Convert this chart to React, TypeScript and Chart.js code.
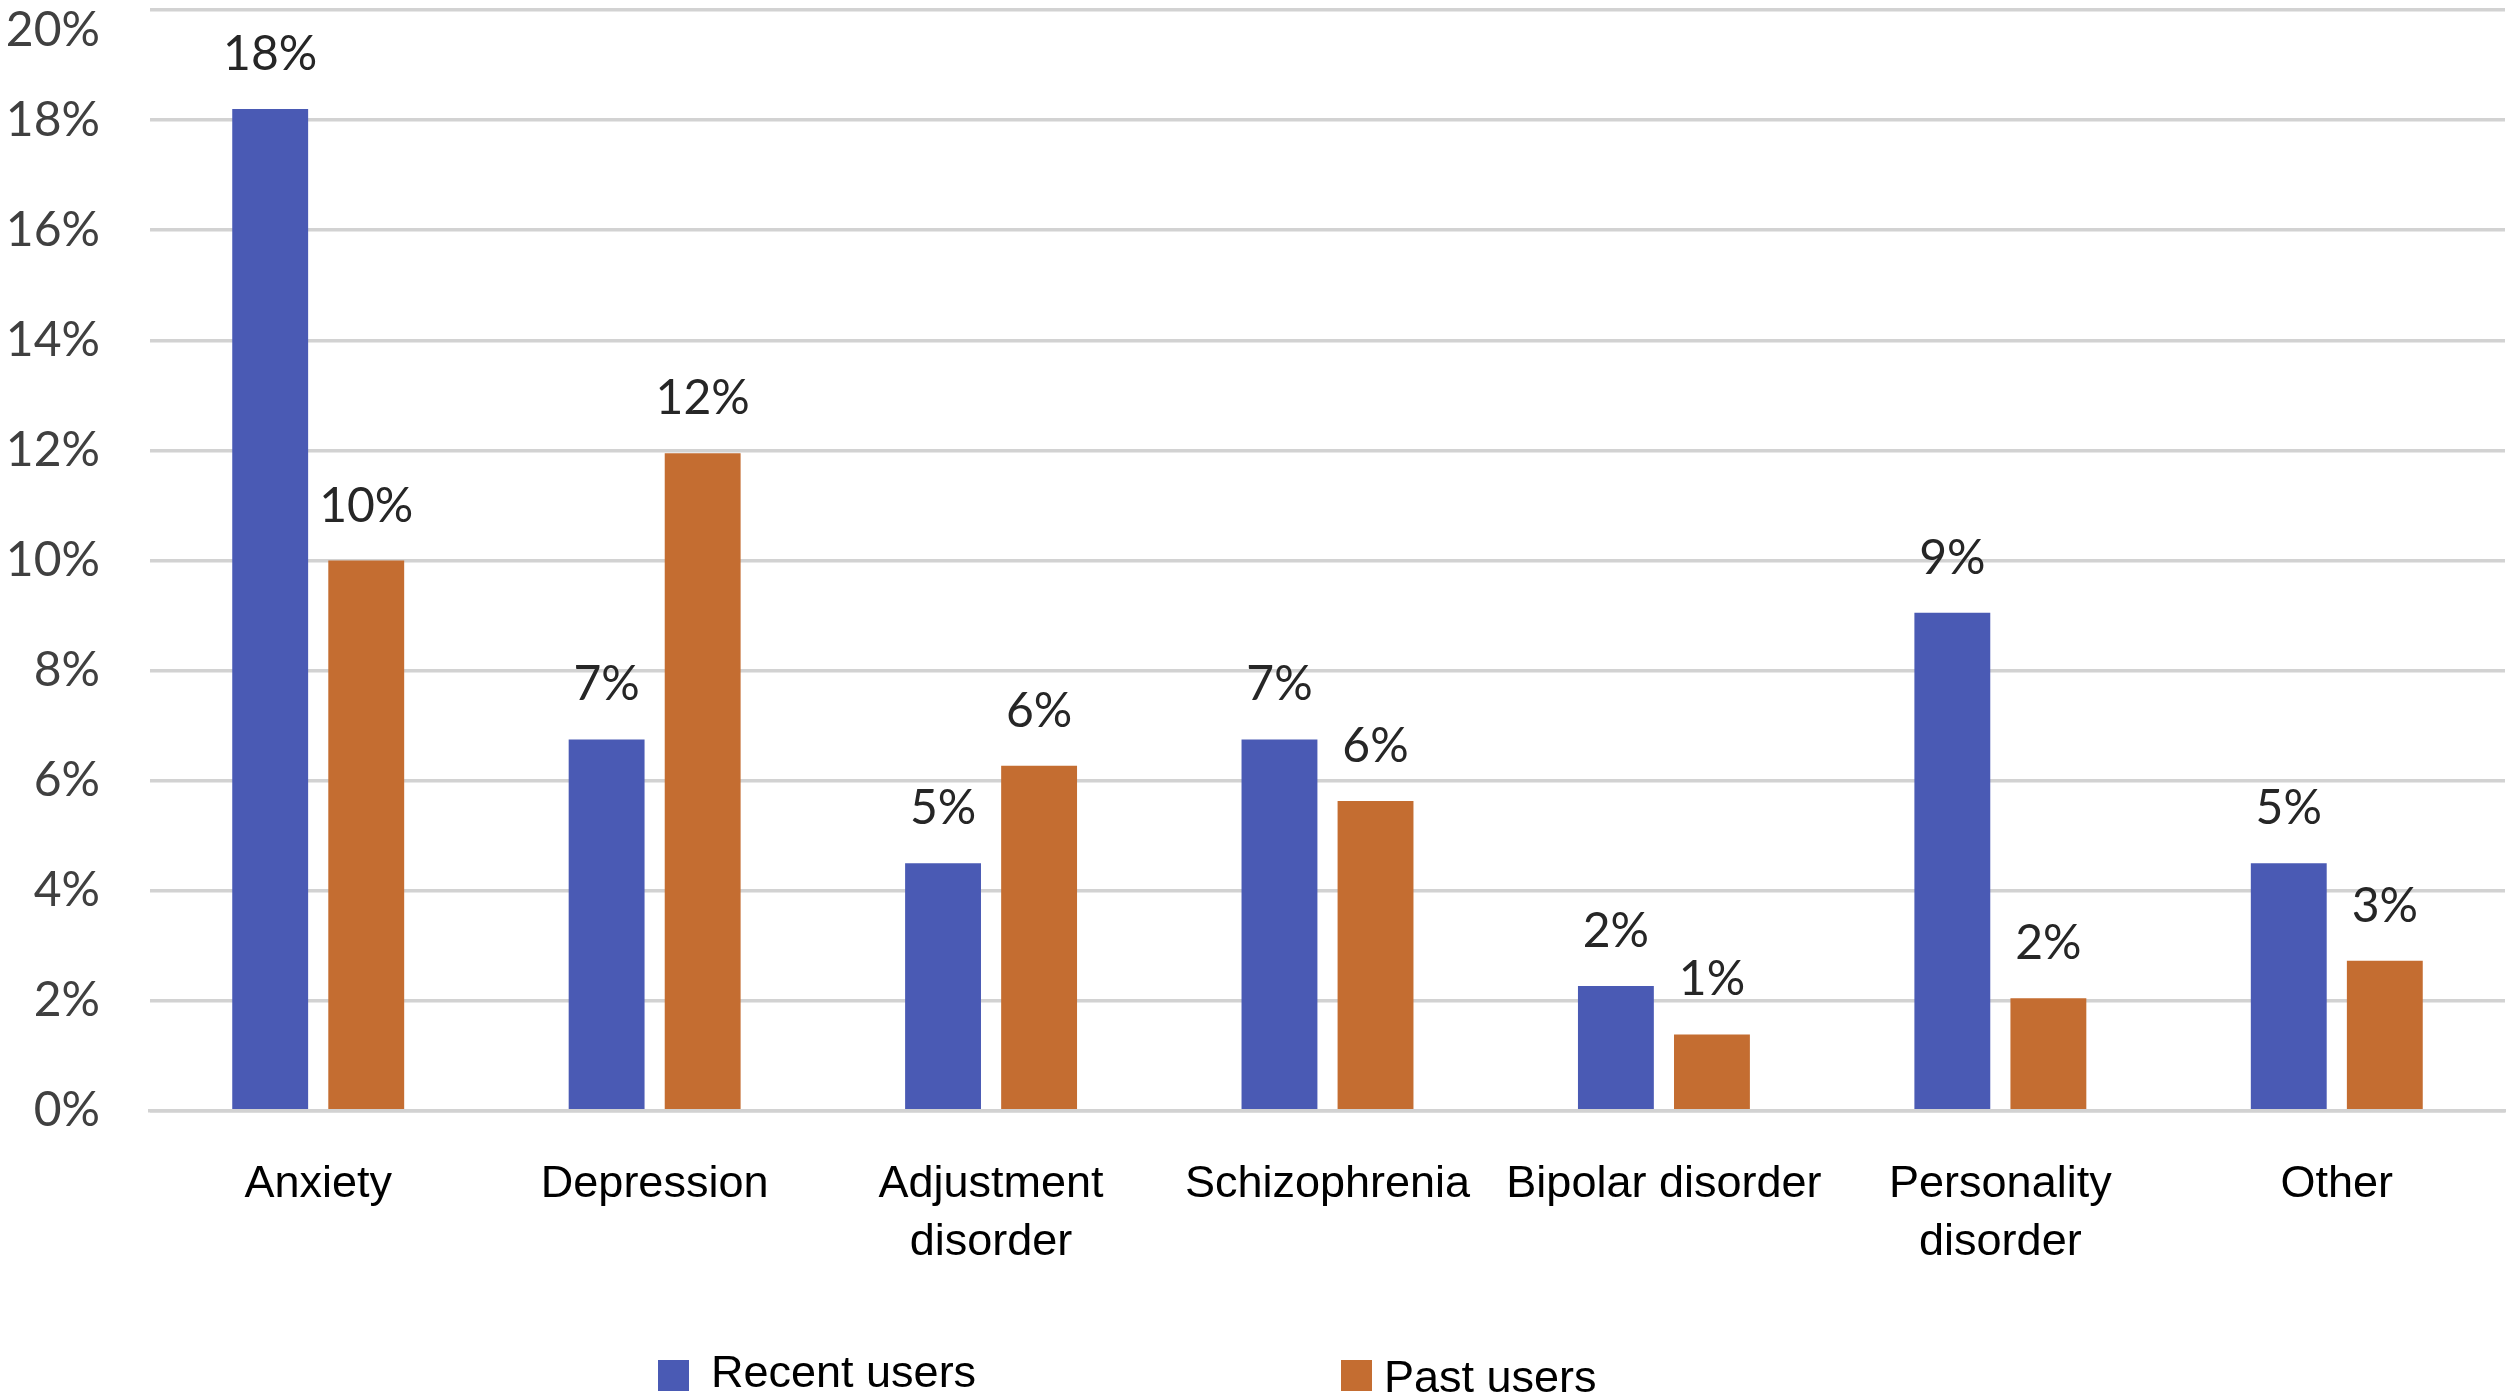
import { useEffect, useRef } from 'react';
import { Chart, registerables } from 'chart.js';

Chart.register(...registerables);

// ---- data ----
const categories: (string | string[])[] = [
  'Anxiety',
  'Depression',
  ['Adjustment', 'disorder'],
  'Schizophrenia',
  'Bipolar disorder',
  ['Personality', 'disorder'],
  'Other',
];
const seriesNames = ['Recent users', 'Past users'];
const recentUsers = [18.2, 6.75, 4.5, 6.75, 2.27, 9.05, 4.5];
const pastUsers = [10.0, 11.95, 6.27, 5.63, 1.39, 2.05, 2.73];
const yMin = 0;
const yMax = 20;
const yStep = 2;

const BLUE = '#4A5AB4';
const ORANGE = '#C46D31';
const GRID = '#d2d2d2';

const dataLabelPlugin = {
  id: 'dataLabelPlugin',
  afterDatasetsDraw(chart: any) {
    const ctx = chart.ctx;
    ctx.save();
    ctx.font = '48px Lato';
    ctx.fillStyle = '#262626';
    ctx.textAlign = 'center';
    ctx.textBaseline = 'alphabetic';
    chart.data.datasets.forEach((ds: any, i: number) => {
      const meta = chart.getDatasetMeta(i);
      meta.data.forEach((bar: any, j: number) => {
        const v = ds.data[j] as number;
        ctx.fillText(Math.round(v) + '%', bar.x, bar.y - 39);
      });
    });
    ctx.restore();
  },
};

// custom legend (items are spread far apart in the reference)
const legendPlugin = {
  id: 'spreadLegend',
  afterDraw(chart: any) {
    const ctx = chart.ctx;
    const boxX = [658, 1341];
    const textX = [711, 1384];
    const baseY = [1387, 1392];
    ctx.save();
    ctx.font = '45px "Liberation Sans", Arial, sans-serif';
    ctx.textAlign = 'left';
    ctx.textBaseline = 'alphabetic';
    chart.data.datasets.forEach((ds: any, i: number) => {
      ctx.fillStyle = ds.backgroundColor;
      ctx.fillRect(boxX[i], 1360, 31, 31);
      ctx.fillStyle = '#000000';
      ctx.fillText(ds.label, textX[i], baseY[i]);
    });
    ctx.restore();
  },
};

export default function App() {
  const canvasRef = useRef<HTMLCanvasElement | null>(null);

  useEffect(() => {
    document.body.style.margin = '0';
    const canvas = canvasRef.current;
    if (!canvas) return;
    const chart = new Chart(canvas, {
      type: 'bar',
      data: {
        labels: categories as any,
        datasets: [
          {
            label: seriesNames[0],
            data: recentUsers,
            backgroundColor: BLUE,
            categoryPercentage: 0.571,
            barPercentage: 0.79,
          },
          {
            label: seriesNames[1],
            data: pastUsers,
            backgroundColor: ORANGE,
            categoryPercentage: 0.571,
            barPercentage: 0.79,
          },
        ],
      },
      options: {
        animation: false,
        responsive: true,
        maintainAspectRatio: false,
        layout: { padding: { top: 10, right: 7, left: 0, bottom: 0 } },
        plugins: {
          legend: { display: false },
          tooltip: { enabled: false },
          title: { display: false },
        },
        scales: {
          x: {
            offset: true,
            grid: { display: false, drawTicks: false },
            border: { display: true, color: GRID, width: 3.5, z: 1 },
            ticks: {
              color: '#000000',
              padding: 45,
              maxRotation: 0,
              minRotation: 0,
              autoSkip: false,
              font: { family: '"Liberation Sans", Arial, sans-serif', size: 45, lineHeight: 1.2778 },
            },
            afterFit(scale: any) {
              scale.height = 289;
              scale.paddingLeft = 0;
              scale.paddingRight = 0;
            },
          },
          y: {
            min: yMin,
            max: yMax,
            grid: { color: GRID, lineWidth: 3.5, drawTicks: false },
            border: { display: false },
            ticks: {
              stepSize: yStep,
              padding: 50,
              color: '#404040',
              font: { family: 'Lato', size: 48, lineHeight: 0.85 },
              callback: (value: any) => (Number(value) === yMax ? ['', value + '%'] : value + '%'),
            },
            afterFit(scale: any) {
              scale.width = 150;
              scale.paddingTop = 0;
              scale.paddingBottom = 0;
            },
          },
        },
      },
      plugins: [dataLabelPlugin, legendPlugin],
    });

    let alive = true;
    if ((document as any).fonts) {
      Promise.all([
        (document as any).fonts.load('48px Lato'),
        (document as any).fonts.load('45px "Liberation Sans"'),
      ])
        .then(() => {
          if (alive) chart.update();
        })
        .catch(() => {});
    }

    return () => {
      alive = false;
      chart.destroy();
    };
  }, []);

  return (
    <div style={{ position: 'absolute', left: 0, top: 0, width: 2512, height: 1400, background: '#ffffff' }}>
      <canvas ref={canvasRef} />
    </div>
  );
}
